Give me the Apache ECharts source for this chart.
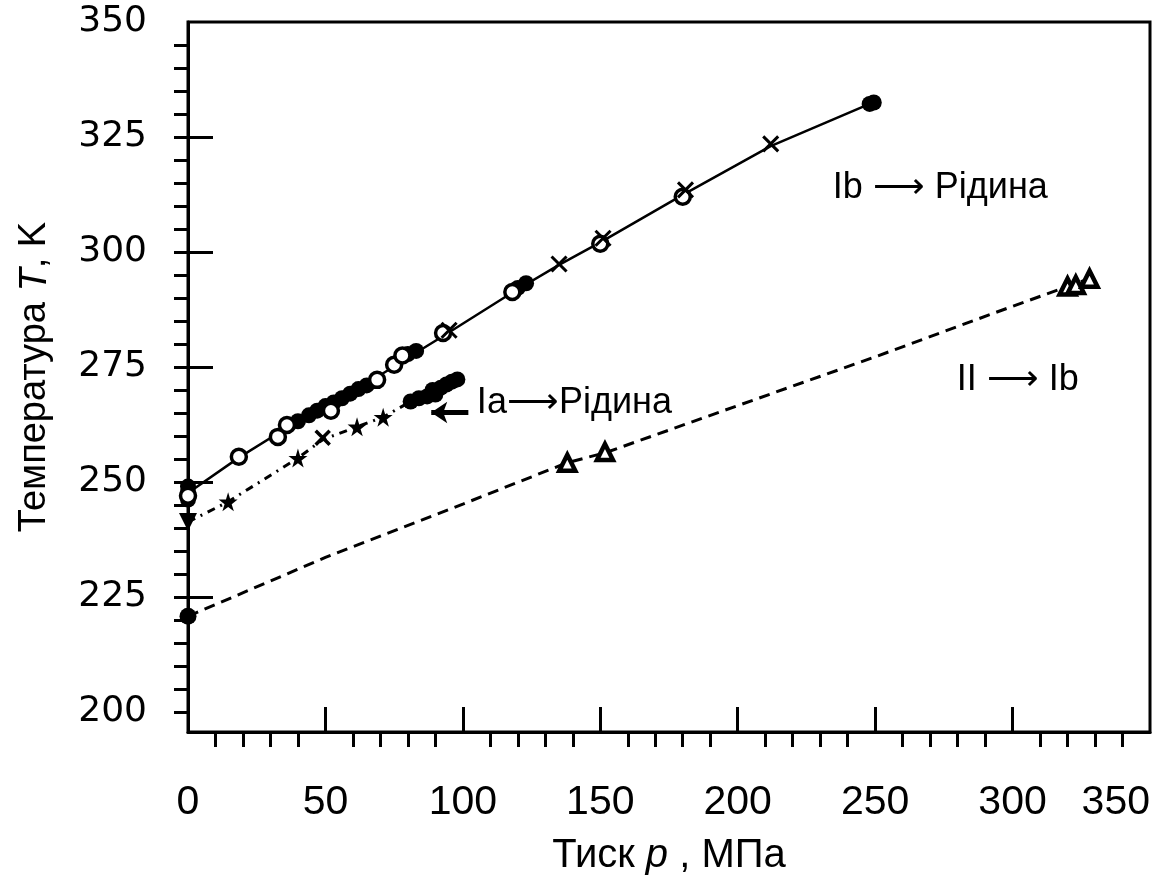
<!DOCTYPE html>
<html>
<head>
<meta charset="utf-8">
<script src="https://cdn.jsdelivr.net/npm/echarts@6/dist/echarts.min.js"></script>
<style>html,body{margin:0;padding:0;background:#fff;}#c{width:1162px;height:876px;}</style>
</head>
<body>
<div id="c"></div>
<script>
// ---- Data (p in MPa, T in K) ----
const xLabels = [0, 50, 100, 150, 200, 250, 300, 350];
const yLabels = [200, 225, 250, 275, 300, 325, 350];

// Ib -> liquid (solid line)
const ibLine = [[0,247.6],[18.5,255.3],[36,261.8],[60,269.5],[80,277],[93,281.8],[118,291.2],[135,297.2],[150,302.1],[180,312.4],[212,323],[248,332.2]];
const ibOpen = [[0,247],[18.5,255.5],[32.7,259.8],[36,262.4],[52,265.5],[68.8,272.2],[75,275.5],[78,277.5],[92.8,282.4],[118,291.3],[150,301.8],[180,312]];
const ibFilled = [[0,246.2],[0,247.8],[0,249],[40,263.2],[44,264.5],[47,265.5],[50,266.5],[53,267.3],[56,268.2],[59,269.2],[62,270.2],[65,271],[80,277.8],[83,278.5],[120,292.2],[123,293.2],[248,332.2],[249.5,332.5]];
const ibCross = [[95,283],[135,297.4],[151,303],[181,313.5],[212,323.5]];

// Ia -> liquid (dash-dot line)
const iaLine = [[0,241.3],[14.6,245.7],[40,255.2],[49,259.2],[61.5,262],[71,264.1],[81,267.5],[90,269],[98,272.3]];
const iaTri = [[0,241.3]];
const iaStar = [[14.6,245.7],[40,255.2],[61.5,262],[71,264.1]];
const iaCross = [[49,259.6]];
const iaFilled = [[81,267.5],[84,268.2],[87,268.6],[89,270],[90,269],[92,270.5],[94,271.2],[96,271.8],[98,272.3]];

// II -> Ib (dashed line)
const iiLine = [[0,220.8],[50,233.6],[100,245.2],[138,254.2],[152,256.4],[200,266.6],[250,277.2],[300,288.2],[328,294.2]];
const iiFilled = [[0,220.8]];
const iiTri = [[138,254.2],[151.7,256.5],[320,292.5],[323,292.8],[328,294.2]];

// Annotations: [p, T, text]
const notes = [[234.6,313.9,'Ib ⟶ Рідина'],[279.7,272.2,'II ⟶ Ib'],[105.1,267.2,'Ia⟶Рідина']];
const arrowFrom = [102,265.1];
const arrowTo = [88.5,265.1];

const xMinor = [];
for (let v = 10; v < 350; v += 10) if (v % 50 !== 0) xMinor.push(v);
const yMinor = [];
for (let v = 200; v < 350; v += 5) yMinor.push(v);
const yMajorIn = [225, 250, 275, 300, 325];
const xMajorIn = [50, 100, 150, 200, 250, 300];

const starPath = 'path://M50,0L61,35L98,35L68,57L79,91L50,70L21,91L32,57L2,35L39,35Z';
const crossPath = 'path://M0,0L10,10M10,0L0,10';

const chart = echarts.init(document.getElementById('c'), null, {renderer:'canvas'});
const font = '"Liberation Sans", Arial, sans-serif';
const narrow = '"Liberation Sans Narrow", "Liberation Sans", sans-serif';
const op1 = {opacity:1};
const option = {
  animation: false,
  backgroundColor: '#fff',
  grid: {left:188, right:12, top:22, bottom:144, outerBoundsMode:'none', containLabel:false, show:true, borderColor:'#000', borderWidth:3, backgroundColor:'transparent'},
  xAxis: [{
    type:'value', min:0, max:350,
    axisLine:{show:true, onZero:false, lineStyle:{color:'#000', width:3}},
    axisTick:{show:true, inside:true, length:25, lineStyle:{color:'#000', width:3}, customValues:xMajorIn},
    axisLabel:{customValues:xLabels, margin:50, color:'#000', fontSize:41, fontFamily:narrow, alignMaxLabel:'right'},
    splitLine:{show:false},
    name:'{n|Тиск }{i|p}{n| , МПа}', nameLocation:'middle', nameGap:104,
    nameTextStyle:{rich:{n:{fontSize:40, fontFamily:narrow, color:'#000'}, i:{fontSize:40, fontStyle:'italic', fontFamily:font, color:'#000'}}}
  },{
    type:'value', min:0, max:350, position:'bottom',
    axisLine:{show:false, onZero:false},
    axisTick:{show:true, inside:false, length:15, lineStyle:{color:'#000', width:3}, customValues:xMinor},
    axisLabel:{show:false}, splitLine:{show:false}
  }],
  yAxis: [{
    type:'value', min:195.65, max:350,
    axisLine:{show:true, onZero:false, lineStyle:{color:'#000', width:3}},
    axisTick:{show:true, inside:true, length:25, lineStyle:{color:'#000', width:3}, customValues:yMajorIn},
    axisLabel:{customValues:yLabels, margin:41, color:'#000', fontSize:36, fontFamily:'"DejaVu Sans", sans-serif'},
    splitLine:{show:false},
    name:'{n|Температура }{i|T}{n|, K}', nameLocation:'middle', nameGap:134, nameRotate:90,
    nameTextStyle:{rich:{n:{fontSize:38, fontFamily:narrow, color:'#000'}, i:{fontSize:38, fontStyle:'italic', fontFamily:font, color:'#000'}}}
  },{
    type:'value', min:195.65, max:350, position:'left',
    axisLine:{show:false, onZero:false},
    axisTick:{show:true, inside:false, length:14, lineStyle:{color:'#000', width:3}, customValues:yMinor},
    axisLabel:{show:false}, splitLine:{show:false}
  }],
  series: [
    {type:'line', data:ibLine, showSymbol:false, lineStyle:{color:'#000', width:2.5}, z:2},
    {type:'line', data:iaLine, showSymbol:false, lineStyle:{color:'#000', width:3, type:[8,6,2,6]}, z:2},
    {type:'line', data:iiLine, showSymbol:false, lineStyle:{color:'#000', width:3, type:[11,7]}, z:2},
    {type:'scatter', data:ibFilled, symbol:'circle', symbolSize:16, itemStyle:{color:'#000', opacity:1}, z:3},
    {type:'scatter', data:ibOpen, symbol:'circle', symbolSize:15, itemStyle:{color:'#fff', borderColor:'#000', borderWidth:3.5, opacity:1}, z:4},
    {type:'scatter', data:ibCross, symbol:crossPath, symbolSize:15, itemStyle:{color:'#000', borderColor:'#000', borderWidth:3, opacity:1}, z:4},
    {type:'scatter', data:iaTri, symbol:'triangle', symbolRotate:180, symbolSize:18, itemStyle:{color:'#000', opacity:1}, z:3},
    {type:'scatter', data:iaStar, symbol:starPath, symbolSize:19, itemStyle:{color:'#000', opacity:1}, z:3},
    {type:'scatter', data:iaCross, symbol:crossPath, symbolSize:14, itemStyle:{color:'#000', borderColor:'#000', borderWidth:3.5, opacity:1}, z:3},
    {type:'scatter', data:iaFilled, symbol:'circle', symbolSize:16, itemStyle:{color:'#000', opacity:1}, z:3},
    {type:'scatter', data:iiFilled, symbol:'circle', symbolSize:17, itemStyle:{color:'#000', opacity:1}, z:3},
    {type:'scatter', data:iiTri, symbol:'triangle', symbolSize:16, itemStyle:{color:'#fff', borderColor:'#000', borderWidth:4.5, opacity:1}, z:4},
    {type:'scatter', data:notes, symbolSize:0, z:5, itemStyle:op1,
      label:{show:true, position:'right', distance:0, formatter:(p)=>p.data[2], color:'#000', opacity:1, fontSize:36, fontFamily:font},
      markLine:{silent:true, symbol:['none','arrow'], symbolSize:[16,16], label:{show:false},
        lineStyle:{color:'#000', width:5, type:'solid', opacity:1},
        data:[[{coord:arrowFrom},{coord:arrowTo}]]}
    }
  ]
};
chart.setOption(option);
</script>
</body>
</html>
